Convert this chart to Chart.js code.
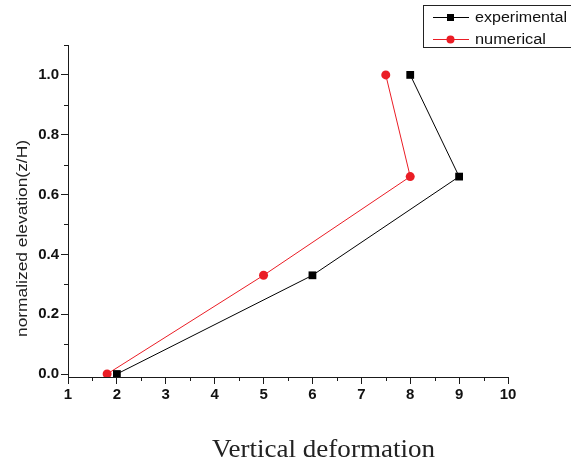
<!DOCTYPE html>
<html>
<head>
<meta charset="utf-8">
<script src="https://cdn.jsdelivr.net/npm/chart.js@4.4.0/dist/chart.umd.min.js"></script>
<style>
  body { margin: 0; background: #fff; }
  canvas { display: block; }
</style>
</head>
<body>
<canvas id="chart" width="571" height="461"></canvas>
<script>
// data
const seriesNames = ["experimental", "numerical"];
const expX = [2, 6, 9, 8];
const expY = [0, 0.33, 0.66, 1.0];
const numX = [1.8, 5, 8, 7.5];
const numY = [0, 0.33, 0.66, 1.0];
const xTicks = [1, 2, 3, 4, 5, 6, 7, 8, 9, 10];
const yTicks = [0, 0.2, 0.4, 0.6, 0.8, 1.0];
const xMinor = [1.5, 2.5, 3.5, 4.5, 5.5, 6.5, 7.5, 8.5, 9.5];
const yMinor = [0.1, 0.3, 0.5, 0.7, 0.9, 1.1];
const xTitle = "Vertical deformation";
const yTitle = "normalized elevation(z/H)";

const RED = "#ea1d25";
const AXIS = "#1a1a1a";

function toPoints(xs, ys) {
  return xs.map((x, i) => ({ x: x, y: ys[i] }));
}

// text drawn squeezed/stretched to a given width, like the original figure
function fitText(ctx, text, x, y, font, width) {
  ctx.save();
  ctx.font = font;
  let w = ctx.measureText(text).width;
  ctx.translate(x, y);
  ctx.scale(width / w, 1);
  ctx.fillText(text, 0, 0);
  ctx.restore();
}

const extras = {
  id: "extras",
  afterDraw(chart) {
    const ctx = chart.ctx;
    const xs = chart.scales.x;
    const ys = chart.scales.y;
    const area = chart.chartArea;

    // minor ticks
    ctx.save();
    ctx.strokeStyle = AXIS;
    ctx.lineWidth = 1;
    ctx.beginPath();
    xMinor.forEach(v => {
      let px = Math.round(xs.getPixelForValue(v)) + 0.5;
      ctx.moveTo(px, area.bottom);
      ctx.lineTo(px, area.bottom + 4);
    });
    yMinor.forEach(v => {
      let py = Math.round(ys.getPixelForValue(v)) + 0.5;
      ctx.moveTo(area.left - 4, py);
      ctx.lineTo(area.left, py);
    });
    ctx.stroke();
    ctx.restore();

    // axis titles
    ctx.save();
    ctx.fillStyle = "#222";
    ctx.textAlign = "left";
    ctx.textBaseline = "alphabetic";
    ctx.font = "26px 'Liberation Serif', 'DejaVu Serif', serif";
    let tw = ctx.measureText(xTitle).width;
    fitText(ctx, xTitle, 212, 457, ctx.font, 223);

    ctx.translate(27, 337);
    ctx.rotate(-Math.PI / 2);
    fitText(ctx, yTitle, 0, 0, "14px 'Liberation Sans', Arial, sans-serif", 197);
    ctx.restore();

    // legend
    ctx.save();
    ctx.strokeStyle = "#222";
    ctx.lineWidth = 1;
    ctx.strokeRect(423.5, 5.5, 150, 42);
    const rows = [
      { name: seriesNames[0], y: 17, color: "#000", w: 92 },
      { name: seriesNames[1], y: 39, color: RED, w: 71 },
    ];
    rows.forEach((r, i) => {
      ctx.strokeStyle = r.color;
      ctx.beginPath();
      ctx.moveTo(433, r.y + 0.5);
      ctx.lineTo(469, r.y + 0.5);
      ctx.stroke();
      ctx.fillStyle = r.color;
      if (i === 0) {
        ctx.fillRect(447, r.y - 3, 7, 7);
      } else {
        ctx.beginPath();
        ctx.arc(450.5, r.y + 0.5, 4, 0, Math.PI * 2);
        ctx.fill();
      }
      ctx.fillStyle = "#111";
      ctx.textBaseline = "middle";
      fitText(ctx, r.name, 475, r.y + 1, "14px 'Liberation Sans', Arial, sans-serif", r.w);
    });
    ctx.restore();
  },
};

const tickFont = { family: "'Liberation Sans', Arial, sans-serif", size: 15, weight: "bold" };

new Chart(document.getElementById("chart"), {
  type: "line",
  data: {
    datasets: [
      {
        label: seriesNames[0],
        data: toPoints(expX, expY),
        borderColor: "#000",
        backgroundColor: "#000",
        borderWidth: 1,
        pointStyle: "rect",
        pointRadius: 5.5,
        pointBorderWidth: 0,
        tension: 0,
      },
      {
        label: seriesNames[1],
        data: toPoints(numX, numY),
        borderColor: RED,
        backgroundColor: RED,
        borderWidth: 1,
        pointStyle: "circle",
        pointRadius: 4.5,
        pointBorderWidth: 0,
        tension: 0,
      },
    ],
  },
  options: {
    responsive: false,
    animation: false,
    events: [],
    layout: { padding: { top: 45, right: 63, left: 0, bottom: 0 } },
    plugins: { legend: { display: false }, tooltip: { enabled: false } },
    scales: {
      x: {
        type: "linear",
        min: 1,
        max: 10,
        afterFit: (s) => { s.height = 84; },
        afterBuildTicks: (s) => { s.ticks = xTicks.map(v => ({ value: v })); },
        grid: { drawOnChartArea: false, tickLength: 7, color: AXIS },
        border: { color: AXIS, width: 1 },
        ticks: { font: tickFont, color: "#111", padding: 2, maxRotation: 0, autoSkip: false },
      },
      y: {
        min: -0.01,
        max: 1.1,
        afterFit: (s) => { s.width = 68; },
        afterBuildTicks: (s) => { s.ticks = yTicks.map(v => ({ value: v })); },
        grid: { drawOnChartArea: false, tickLength: 7, color: AXIS },
        border: { color: AXIS, width: 1 },
        ticks: {
          font: tickFont,
          color: "#111",
          padding: 2,
          autoSkip: false,
          callback: (v) => v.toFixed(1),
        },
      },
    },
  },
  plugins: [extras],
});
</script>
</body>
</html>
